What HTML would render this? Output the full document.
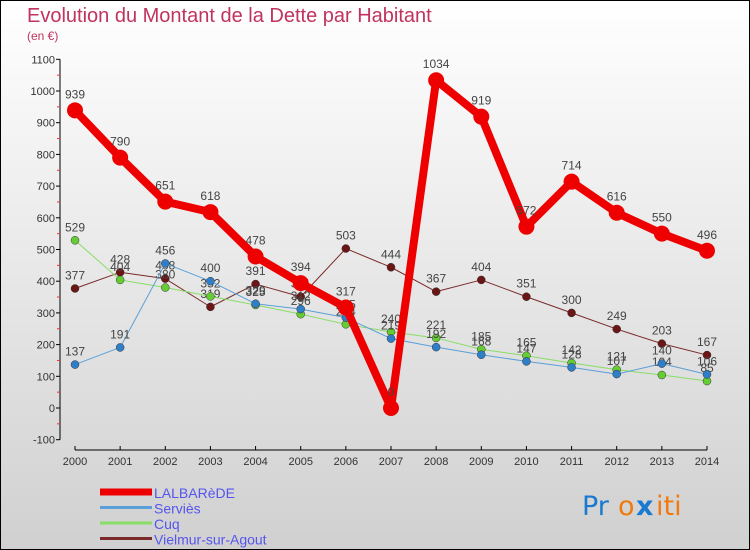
<!DOCTYPE html>
<html><head><meta charset="utf-8"><style>
body{margin:0;padding:0}
svg{display:block;font-family:"Liberation Sans",sans-serif}
</style></head><body>
<svg id="c" width="750" height="550" viewBox="0 0 750 550">
<defs><linearGradient id="bg" x1="0" y1="0" x2="0" y2="1"><stop offset="0" stop-color="#ffffff"/><stop offset="1" stop-color="#d0d0d0"/></linearGradient></defs>
<rect x="0.5" y="0.5" width="749" height="549" fill="url(#bg)" stroke="#000"/>
<text x="27" y="22" font-size="20" fill="#c0335f">Evolution du Montant de la Dette par Habitant</text>
<text x="27" y="40" font-size="12" fill="#c0335f">(en €)</text>
<g id="axes"></g><g id="series"></g><g id="legend"></g>
<g font-size="27" font-family="'DejaVu Sans',sans-serif">
<text x="582" y="515" fill="#1a7ad0">Pr</text><text x="618" y="515" fill="#f07a10">o</text><text x="636" y="515" fill="#1a7ad0" font-weight="bold">x</text><text x="656" y="515" fill="#f07a10">iti</text>
</g>
</svg>
<script>
const years=["2000","2001","2002","2003","2004","2005","2006","2007","2008","2009","2010","2011","2012","2013","2014"];
const yTicks=[-100,0,100,200,300,400,500,600,700,800,900,1000,1100];
const lalbarede=[939,790,651,618,478,394,317,0,1034,919,572,714,616,550,496];
const servies=[137,191,456,400,329,312,285,219,192,168,147,128,107,140,106];
const cuq=[529,404,380,352,325,296,264,240,221,185,165,142,121,104,85];
const vielmur=[377,428,408,319,391,351,503,444,367,404,351,300,249,203,167];
const NS="http://www.w3.org/2000/svg";
function X(i){return 75+i*(707-75)/14;}
function Y(v){return 408-v*0.317;}
function mk(tag,attrs,parent,txt){const e=document.createElementNS(NS,tag);for(const k in attrs)e.setAttribute(k,attrs[k]);if(txt!==undefined)e.textContent=txt;parent.appendChild(e);return e;}
const ax=document.getElementById('axes');
let yl=mk('line',{x1:60,y1:Y(1100),x2:60,y2:Y(-100),stroke:'#000'},ax);


yTicks.forEach(t=>{
 mk('line',{x1:56,y1:Y(t),x2:60,y2:Y(t),stroke:'#000'},ax);
 if(t<1100) mk('line',{x1:57,y1:Y(t+50),x2:60,y2:Y(t+50),stroke:'#e33'},ax);
 let tl=mk('text',{x:55,y:Y(t)+4,'font-size':11,'text-anchor':'end',fill:'#333'},ax,String(t));
 
 
});
let xl=mk('line',{x1:X(0),y1:450,x2:X(14),y2:450,stroke:'#000'},ax);


years.forEach((y,i)=>{
 mk('line',{x1:X(i),y1:446,x2:X(i),y2:450,stroke:'#000'},ax);
 let t=mk('text',{x:X(i),y:465,'font-size':11,'text-anchor':'middle',fill:'#333'},ax,y);
 
 
});
const sg=document.getElementById('series');
const defs=[
 {name:'vielmur-sur-agout',data:vielmur,color:'#7a2a2a',w:1,r:4,dot:'#6b1515',label:'Vielmur-sur-Agout'},
 {name:'cuq',data:cuq,color:'#88dd66',w:1,r:4,dot:'#66cc33',label:'Cuq'},
 {name:'servies',data:servies,color:'#5a9fd8',w:1,r:4,dot:'#2f7fc8',label:'Serviès'},
 {name:'lalbarede',data:lalbarede,color:'#ee0000',w:8,r:8,dot:'#ee0000',label:'LALBARèDE'}
];
defs.forEach(s=>{
 const g=mk('g',{},sg);
 
 
 let p=mk('polyline',{points:s.data.map((v,i)=>X(i)+','+Y(v)).join(' '),fill:'none',stroke:s.color,'stroke-width':s.w,'stroke-linejoin':'round'},g);
 
 
 s.data.forEach((v,i)=>{
  let c=mk('circle',{cx:X(i),cy:Y(v),r:s.r,fill:s.dot,stroke:s.w>1?'none':'#333','stroke-width':0.5},g);
  
  
  let t=mk('text',{x:X(i),y:Y(v)-(s.w>1?12:9),'font-size':12,'text-anchor':'middle',fill:'#444'},g,String(v));
  
  
 });
});
const lg=document.getElementById('legend');
const order=[defs[3],defs[2],defs[1],defs[0]];
order.forEach((s,k)=>{
 const y=492+k*15.5;
 const g=mk('g',{},lg);
 
 
 mk('line',{x1:100,y1:y,x2:152,y2:y,stroke:s.color,'stroke-width':k==0?7:3},g);
 mk('text',{x:154,y:y+6,'font-size':14,fill:'#5555ee'},g,s.label);
});
</script>
</body></html>
